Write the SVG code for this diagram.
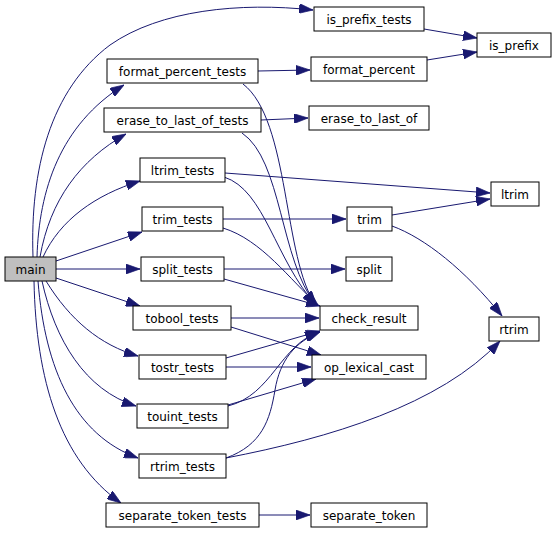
<svg xmlns="http://www.w3.org/2000/svg" width="557" height="533" viewBox="0 0 557 533">
<style>
.n rect{fill:#ffffff;stroke:#000000;stroke-width:1}
.n.root rect{fill:#bfbfbf}
.n text{font-family:"DejaVu Sans","Liberation Sans",sans-serif;font-size:12px;fill:#000000;text-anchor:middle}
#edges path{fill:none;stroke:#191970;stroke-width:1;marker-end:url(#ah)}
</style>
<defs>
<marker id="ah" viewBox="0 0 10 7" markerUnits="userSpaceOnUse" markerWidth="14" markerHeight="9.8" refX="10" refY="3.5" orient="auto">
<path d="M0,0 L10,3.5 L0,7 z" fill="#191970" stroke="#191970" stroke-width="0.5"/>
</marker>
</defs>
<rect width="557" height="533" fill="#ffffff"/>
<g id="edges">
<path d="M33,257 C30,170 50,90 110,45 C160,10 240,2 313,10"/>
<path d="M37,257 C39,190 60,125 124,85"/>
<path d="M40,257 C50,200 80,160 126,134"/>
<path d="M43,257 C60,220 95,195 140,181"/>
<path d="M56,261 L142,232"/>
<path d="M56,269 L140,269"/>
<path d="M56,278 L140,306"/>
<path d="M46,281 C70,320 100,345 138,356"/>
<path d="M42,281 C55,340 85,390 136,406"/>
<path d="M38,281 C45,370 75,435 138,458"/>
<path d="M34,281 C36,380 60,460 121,503"/>
<path d="M424,29 L477,38"/>
<path d="M258,71 L310,70"/>
<path d="M427,60 L477,52"/>
<path d="M243,84 C290,120 283,260 316,305"/>
<path d="M261,120 L308,118"/>
<path d="M242,133 C282,160 280,260 316,305"/>
<path d="M225,173 L490,193"/>
<path d="M224,177 C265,190 275,260 316,305"/>
<path d="M223,219 L346,219"/>
<path d="M223,228 C262,240 290,280 318,305"/>
<path d="M392,215 L490,199"/>
<path d="M392,226 C425,238 465,270 502,316"/>
<path d="M224,269 L345,269"/>
<path d="M224,279 L320,306"/>
<path d="M231,318 L319,318"/>
<path d="M231,327 L321,355"/>
<path d="M226,358 L320,331"/>
<path d="M226,367 L311,367"/>
<path d="M228,406 C272,395 280,345 319,332"/>
<path d="M228,405 L316,379"/>
<path d="M226,458 C262,445 270,420 275,390 C280,360 295,342 320,332"/>
<path d="M226,458 C330,438 440,405 500,341"/>
<path d="M259,515 L310,515"/>
</g>
<g id="main" class="n root"><rect x="5" y="257" width="51" height="24"/><text x="30.5" y="273.5">main</text></g>
<g id="is_prefix_tests" class="n"><rect x="314" y="7" width="110" height="24"/><text x="369" y="23.5">is_prefix_tests</text></g>
<g id="is_prefix" class="n"><rect x="477" y="33" width="74" height="24"/><text x="514" y="49.5">is_prefix</text></g>
<g id="format_percent_tests" class="n"><rect x="107" y="59" width="151" height="24"/><text x="182.5" y="75.5">format_percent_tests</text></g>
<g id="format_percent" class="n"><rect x="311" y="57" width="116" height="24"/><text x="369" y="73.5">format_percent</text></g>
<g id="erase_to_last_of_tests" class="n"><rect x="104" y="108" width="157" height="24"/><text x="182.5" y="124.5">erase_to_last_of_tests</text></g>
<g id="erase_to_last_of" class="n"><rect x="309" y="106" width="120" height="24"/><text x="369" y="122.5">erase_to_last_of</text></g>
<g id="ltrim_tests" class="n"><rect x="140" y="158" width="85" height="24"/><text x="182.5" y="174.5">ltrim_tests</text></g>
<g id="ltrim" class="n"><rect x="491" y="182" width="48" height="24"/><text x="515" y="198.5">ltrim</text></g>
<g id="trim_tests" class="n"><rect x="142" y="207" width="81" height="24"/><text x="182.5" y="223.5">trim_tests</text></g>
<g id="trim" class="n"><rect x="347" y="207" width="45" height="24"/><text x="369.5" y="223.5">trim</text></g>
<g id="split_tests" class="n"><rect x="141" y="257" width="83" height="24"/><text x="182.5" y="273.5">split_tests</text></g>
<g id="split" class="n"><rect x="346" y="257" width="46" height="24"/><text x="369" y="273.5">split</text></g>
<g id="tobool_tests" class="n"><rect x="133" y="306" width="98" height="24"/><text x="182" y="322.5">tobool_tests</text></g>
<g id="check_result" class="n"><rect x="320" y="306" width="98" height="24"/><text x="369" y="322.5">check_result</text></g>
<g id="rtrim" class="n"><rect x="489" y="317" width="50" height="24"/><text x="514" y="333.5">rtrim</text></g>
<g id="tostr_tests" class="n"><rect x="139" y="355" width="87" height="24"/><text x="182.5" y="371.5">tostr_tests</text></g>
<g id="op_lexical_cast" class="n"><rect x="312" y="355" width="114" height="24"/><text x="369" y="371.5">op_lexical_cast</text></g>
<g id="touint_tests" class="n"><rect x="137" y="404" width="91" height="24"/><text x="182.5" y="420.5">touint_tests</text></g>
<g id="rtrim_tests" class="n"><rect x="139" y="454" width="87" height="24"/><text x="182.5" y="470.5">rtrim_tests</text></g>
<g id="separate_token_tests" class="n"><rect x="106" y="503" width="153" height="24"/><text x="182.5" y="519.5">separate_token_tests</text></g>
<g id="separate_token" class="n"><rect x="311" y="503" width="116" height="24"/><text x="369" y="519.5">separate_token</text></g>
</svg>
